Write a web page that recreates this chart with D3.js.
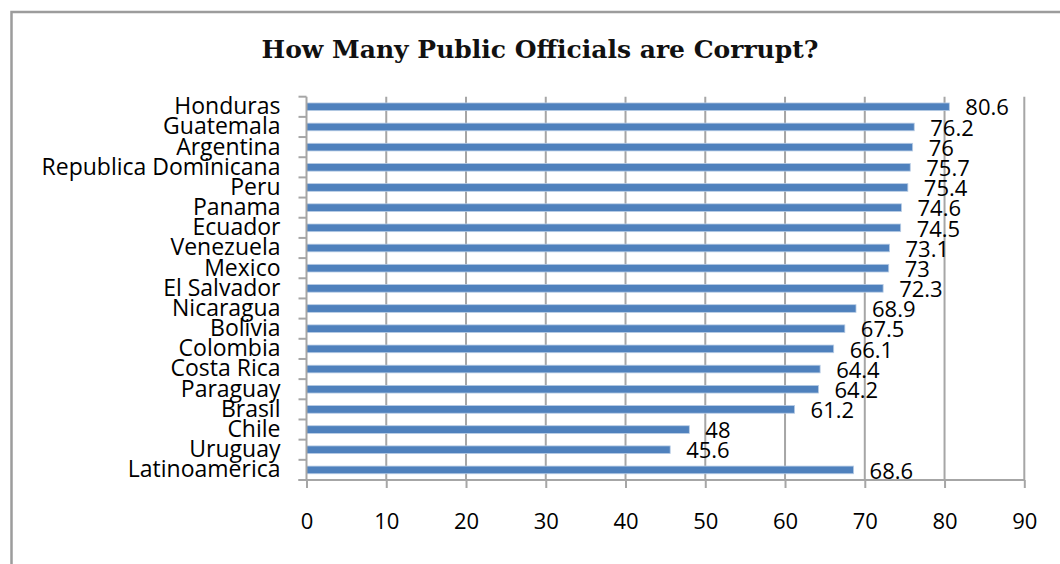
<!DOCTYPE html>
<html>
<head>
<meta charset="utf-8">
<script src="https://cdn.jsdelivr.net/npm/d3@7/dist/d3.min.js"></script>
<style>
  html, body { margin: 0; padding: 0; background: #fff; }
  svg { display: block; }
</style>
</head>
<body>
<svg id="chart" width="1060" height="564"></svg>
<script>
// Share of respondents who think public officials are corrupt, by country
const countries = [
  "Honduras", "Guatemala", "Argentina", "Republica Dominicana", "Peru",
  "Panama", "Ecuador", "Venezuela", "Mexico", "El Salvador", "Nicaragua",
  "Bolivia", "Colombia", "Costa Rica", "Paraguay", "Brasil", "Chile",
  "Uruguay", "Latinoamerica"
];
const corruptValues = [
  80.6, 76.2, 76, 75.7, 75.4, 74.6, 74.5, 73.1, 73, 72.3, 68.9,
  67.5, 66.1, 64.4, 64.2, 61.2, 48, 45.6, 68.6
];
const xTicks = [0, 10, 20, 30, 40, 50, 60, 70, 80, 90];
const chartTitle = "How Many Public Officials are Corrupt?";

const data = countries.map((c, i) => ({ country: c, value: corruptValues[i] }));

const svg = d3.select("#chart");
const labelFont = "'Open Sans', 'Noto Sans', sans-serif";
const labelSize = 22;
const categorySize = 23;
const gridColor = "#a6a6a6";

// plot area
const plot = { left: 306.5, right: 1024.3, top: 96.7, bottom: 480 };

// outer frame (extends past the right and bottom edges)
svg.append("rect")
  .attr("x", 11.5).attr("y", 12)
  .attr("width", 1100).attr("height", 600)
  .attr("fill", "none")
  .attr("stroke", "#9c9c9c")
  .attr("stroke-width", 2.5);

// title
svg.append("text")
  .attr("x", 540).attr("y", 58)
  .attr("text-anchor", "middle")
  .attr("font-family", "'DejaVu Serif', 'Liberation Serif', serif")
  .attr("font-weight", "bold")
  .attr("font-size", 25)
  .attr("fill", "#111")
  .text(chartTitle);

const x = d3.scaleLinear().domain([0, 90]).range([plot.left, plot.right]);
const y = d3.scaleBand()
  .domain(countries)
  .range([plot.top, plot.bottom])
  .paddingInner(0.62)
  .paddingOuter(0.31);

// vertical gridlines
svg.append("g")
  .selectAll("line")
  .data(xTicks.filter(t => t > 0))
  .join("line")
  .attr("x1", d => x(d)).attr("x2", d => x(d))
  .attr("y1", plot.top).attr("y2", plot.bottom)
  .attr("stroke", gridColor)
  .attr("stroke-width", 2);

// bars
svg.append("g")
  .selectAll("rect")
  .data(data)
  .join("rect")
  .attr("x", x(0))
  .attr("y", d => y(d.country))
  .attr("width", d => x(d.value) - x(0))
  .attr("height", y.bandwidth())
  .attr("fill", "#4f81bd")
  .attr("stroke", "#b9cde5")
  .attr("stroke-width", 0.8);

// x axis
const xAxis = d3.axisBottom(x)
  .tickValues(xTicks)
  .tickSize(8)
  .tickPadding(25)
  .tickFormat(d3.format("d"));
const gx = svg.append("g")
  .attr("transform", `translate(0,${plot.bottom})`)
  .call(xAxis);
gx.select(".domain").remove();
gx.append("line")
  .attr("x1", plot.left - 8).attr("x2", plot.right)
  .attr("y1", 0).attr("y2", 0)
  .attr("stroke", gridColor).attr("stroke-width", 2);
gx.selectAll(".tick line").attr("stroke", gridColor).attr("stroke-width", 2);
gx.selectAll(".tick text")
  .attr("font-family", labelFont)
  .attr("font-size", labelSize)
  .attr("fill", "#000");

// y axis: category labels, with ticks at band boundaries
const yAxis = d3.axisLeft(y).tickSize(0).tickPadding(26);
const gy = svg.append("g")
  .attr("transform", `translate(${plot.left},0)`)
  .call(yAxis);
gy.select(".domain").remove();
gy.selectAll(".tick text")
  .attr("font-family", labelFont)
  .attr("font-size", categorySize)
  .attr("fill", "#000");
gy.append("line")
  .attr("x1", 0).attr("x2", 0)
  .attr("y1", plot.top).attr("y2", plot.bottom)
  .attr("stroke", gridColor).attr("stroke-width", 2);
const step = y.step();
gy.selectAll("line.cat-tick")
  .data(d3.range(countries.length + 1))
  .join("line")
  .attr("class", "cat-tick")
  .attr("x1", -8).attr("x2", 0)
  .attr("y1", i => plot.top + i * step)
  .attr("y2", i => plot.top + i * step)
  .attr("stroke", gridColor).attr("stroke-width", 2);

// value labels to the right of each bar
svg.append("g")
  .selectAll("text")
  .data(data)
  .join("text")
  .attr("x", d => x(d.value) + 16)
  .attr("y", d => y(d.country) + y.bandwidth() / 2 + 1)
  .attr("dy", "0.35em")
  .attr("font-family", labelFont)
  .attr("font-size", labelSize)
  .attr("fill", "#000")
  .text(d => d.value);
</script>
</body>
</html>
